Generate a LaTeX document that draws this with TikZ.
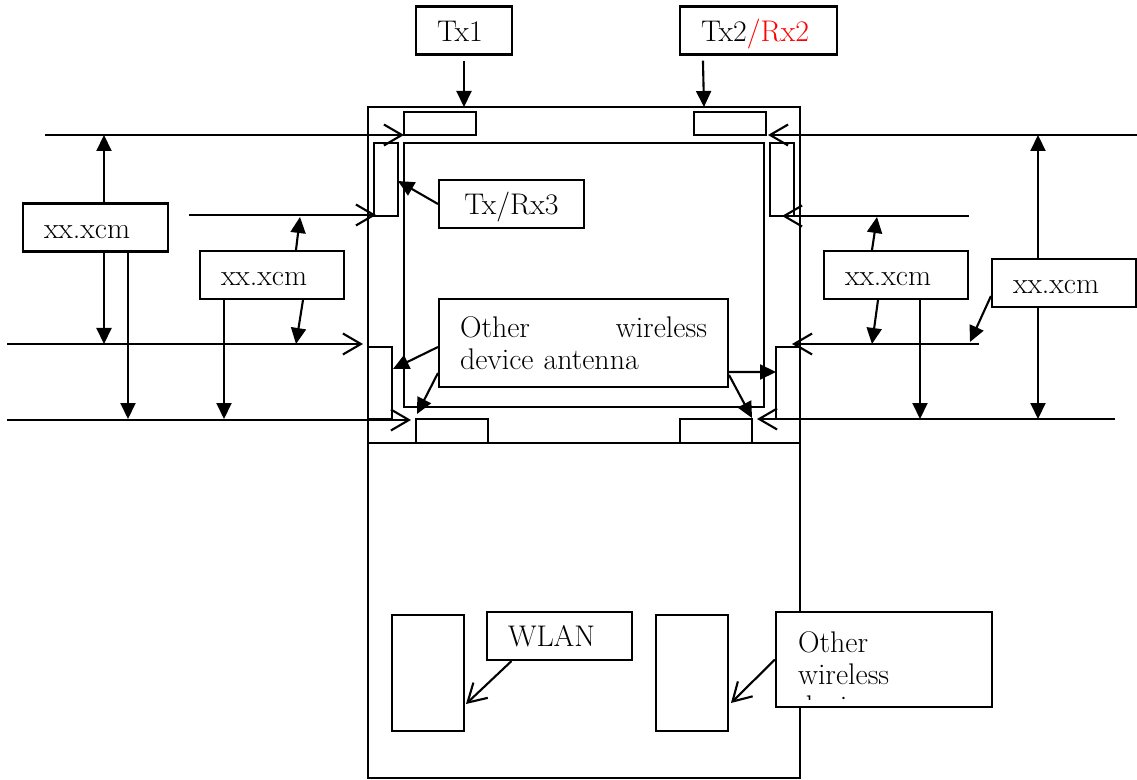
\documentclass[tikz,border=0pt]{standalone}
\usetikzlibrary{arrows.meta}

\begin{document}
\begin{tikzpicture}[
  x=0.02cm, y=-0.02cm,
  line width=1.2pt,
  lbl/.style={draw,rectangle,inner xsep=0.42cm,inner ysep=0pt,
    font=\fontsize{17}{18.1}\selectfont,align=left},
  tag/.style={lbl,text height=1.2em,text depth=0pt,minimum height=0.96cm},
  dim/.style={-{Triangle[length=0.32cm,width=0.3cm]}},
  ptr/.style={-{Straight Barb[length=0.36cm,width=0.42cm]}}
]
  \useasboundingbox (0,0) rectangle (1137,780);

  % housing and screen
  \draw (368,107) rectangle (800,778);
  \draw (368,443) -- (800,443);
  \draw (404,143) rectangle (764,407);
  % antennas
  \draw (404,112) rectangle (476,135);
  \draw (694,112) rectangle (766,135);
  \draw (374,143) rectangle (398,216);
  \draw (770,143) rectangle (794,216);
  \draw (368,347) rectangle (392,419);
  \draw (776,347) rectangle (800,419);
  \draw (416,419) rectangle (488,443);
  \draw (680,419) rectangle (752,443);
  \draw (392,615) rectangle (464,731);
  \draw (656,615) rectangle (728,731);

  \node[tag,text width=1.08cm] (tx1) at (464,30.5) {Tx1};
  \node[tag,text width=2.30cm] (tx2) at (758.5,30.5) {Tx2\textcolor{red}{/Rx2}};
  \node[tag,text width=2.06cm,align=center] (trx3) at (511.5,204) {Tx/Rx3};
  \node[tag,text width=2.06cm] (dimA) at (95.5,227.5) {xx.xcm};
  \node[tag,text width=2.04cm] (dimB) at (272,275) {xx.xcm};
  \node[tag,text width=2.04cm] (dimC) at (896,275) {xx.xcm};
  \node[tag,text width=2.04cm] (dimD) at (1064,283) {xx.xcm};
  \node[lbl,text width=4.94cm,minimum height=1.76cm] (oth) at (583.5,343)
    {Other\hfill wireless\\device antenna};
  \node[tag,text width=2.06cm] (wlan) at (559.5,636) {WLAN};
  \node[lbl,fill=white,text width=3.48cm,minimum height=1.9cm] (owd) at (884,659.5) {};
  \begin{scope}
    \clip (777,613) rectangle (991,700);
    \node[lbl,draw=none,anchor=north west,inner sep=0pt] (owdtxt) at (797,631)
      {Other\\wireless\\device};
  \end{scope}

  % reference lines
  \coordinate (ln1) at (45,135);    \coordinate (ln1t) at (404,135);
  \coordinate (ln2) at (189,215);   \coordinate (ln2t) at (376,215);
  \coordinate (ln3) at (7,344);     \coordinate (ln3t) at (363,344);
  \coordinate (ln4) at (7,420);     \coordinate (ln4t) at (411,420);
  \coordinate (rn1) at (1137,135);  \coordinate (rn1t) at (768,135);
  \coordinate (rn2) at (969,216);   \coordinate (rn2t) at (782,216);
  \coordinate (rn3) at (979,344);   \coordinate (rn3t) at (792,344);
  \coordinate (rn4) at (1115,419);  \coordinate (rn4t) at (757,419);
  \draw[ptr] (ln1) -- (ln1t);
  \draw[ptr] (ln2) -- (ln2t);
  \draw[ptr] (ln3) -- (ln3t);
  \draw[ptr] (ln4) -- (ln4t);
  \draw[ptr] (rn1) -- (rn1t);
  \draw[ptr] (rn2) -- (rn2t);
  \draw[ptr] (rn3) -- (rn3t);
  \draw[ptr] (rn4) -- (rn4t);

  \coordinate (a1) at (104,135);
  \coordinate (a2) at (104,344);
  \coordinate (a3) at (128,419);
  \draw[dim] (dimA.north -| a1) -- (a1);
  \draw[dim] (dimA.south -| a2) -- (a2);
  \draw[dim] (dimA.south -| a3) -- (a3);

  \coordinate (b1) at (300,217);
  \coordinate (b2) at (296,344);
  \coordinate (b3) at (224,419);
  \draw[dim] ([xshift=0.48cm]dimB.north) -- (b1);
  \draw[dim] ([xshift=0.62cm]dimB.south) -- (b2);
  \draw[dim] (dimB.south -| b3) -- (b3);

  \coordinate (c1) at (877,217);
  \coordinate (c2) at (872,344);
  \coordinate (c3) at (920,419);
  \draw[dim] ([xshift=-0.48cm]dimC.north) -- (c1);
  \draw[dim] ([xshift=-0.36cm]dimC.south) -- (c2);
  \draw[dim] (dimC.south -| c3) -- (c3);

  \coordinate (d1) at (1038,135);
  \coordinate (d2) at (1038,419);
  \coordinate (d3) at (970,342);
  \draw[dim] (dimD.north -| d1) -- (d1);
  \draw[dim] (dimD.south -| d2) -- (d2);
  \draw[dim] ([yshift=-0.26cm]dimD.west) -- (d3);

  \coordinate (t1) at (464,107);
  \coordinate (t2) at (704,107);
  \coordinate (r3) at (398,181);
  \draw[dim] ([yshift=-0.1cm]tx1.south) -- (t1);
  \draw[dim] ([xshift=0.48cm,yshift=-0.1cm]tx2.south west) -- (t2);
  \draw[dim] (trx3.west) -- (r3);

  \coordinate (o1) at (393,369);
  \coordinate (o2) at (417,414);
  \coordinate (o3) at (776,372);
  \coordinate (o4) at (752,418);
  \draw[dim] ([yshift=-0.08cm]oth.west) -- (o1);
  \draw[dim] ([yshift=-0.6cm]oth.west) -- (o2);
  \draw[dim] ([yshift=-0.58cm]oth.east) -- (o3);
  \draw[dim] ([yshift=-0.64cm]oth.east) -- (o4);

  \coordinate (w1) at (466,704);
  \coordinate (w2) at (731,703);
  \draw[ptr] ([xshift=-0.96cm]wlan.south) -- (w1);
  \draw[ptr] (owd.west) -- (w2);
\end{tikzpicture}
\end{document}
